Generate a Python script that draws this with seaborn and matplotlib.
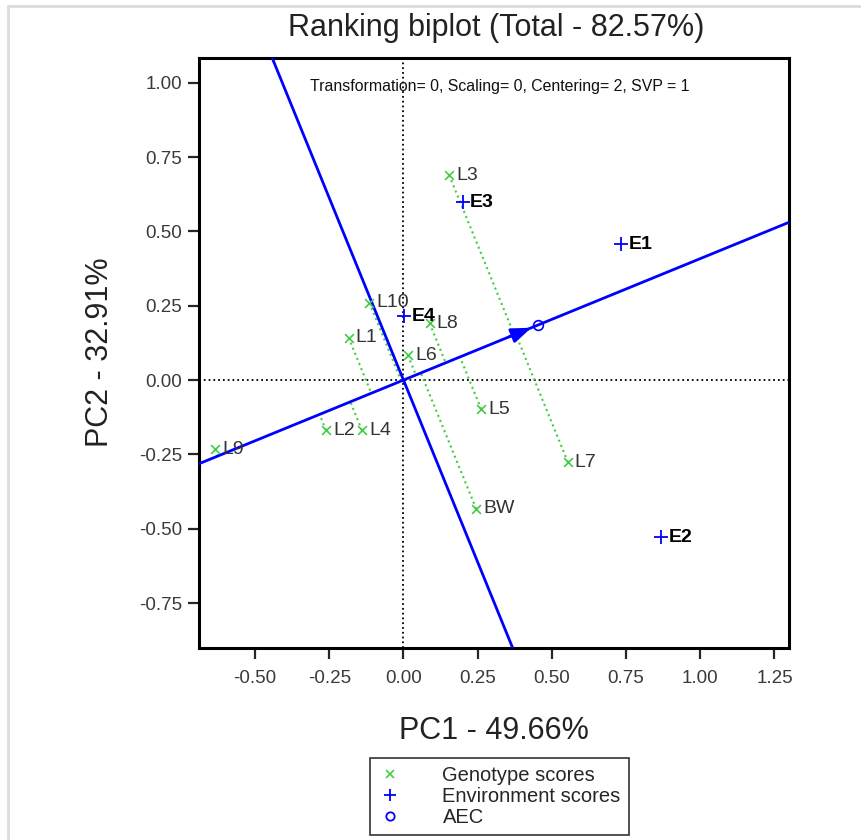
import numpy as np
import seaborn as sns
import matplotlib.pyplot as plt
from matplotlib.lines import Line2D
from matplotlib.patches import Rectangle

sns.set_style('ticks')
plt.rcParams['font.family'] = ['Liberation Sans', 'DejaVu Sans']

# genotype scores (PC1, PC2)
gen_names = ['L3', 'L10', 'L8', 'L1', 'L6', 'L5', 'L2', 'L4', 'L9', 'L7', 'BW']
gen_pc1 = [0.154, -0.115, 0.088, -0.185, 0.015, 0.262, -0.261, -0.140, -0.635, 0.554, 0.245]
gen_pc2 = [0.689, 0.260, 0.191, 0.143, 0.083, -0.098, -0.169, -0.169, -0.233, -0.276, -0.433]

# environment scores
env_names = ['E1', 'E2', 'E3', 'E4']
env_pc1 = [0.734, 0.869, 0.201, 0.003]
env_pc2 = [0.457, -0.528, 0.598, 0.215]

# average environment coordinate
aec = [0.453, 0.185]

green = '#44cc44'
blue = '#0000ff'

fig = plt.figure(figsize=(8.62, 8.40), dpi=100)
ax = fig.add_axes([199 / 862, 1 - 648 / 840, 590 / 862, 590 / 840])

# reference lines through origin
ax.axhline(0, color='black', ls=':', lw=1.3, zorder=1)
ax.axvline(0, color='black', ls=':', lw=1.3, zorder=1)

# AEC axis and its perpendicular
ax.axline((0, 0), (aec[0], aec[1]), color=blue, lw=2, zorder=3)
ax.axline((0, 0), slope=-aec[0] / aec[1], color=blue, lw=2, zorder=3)

# projections of genotypes on the AEC axis
u = np.array(aec) / np.linalg.norm(aec)
for x, y in zip(gen_pc1, gen_pc2):
    t = x * u[0] + y * u[1]
    ax.plot([x, t * u[0]], [y, t * u[1]], color=green, ls=':', lw=1.5, zorder=2)

# arrow head on the AEC axis
tip = 0.97 * np.array(aec)
ax.annotate('', xy=tip, xytext=tip - 0.1 * u,
            arrowprops=dict(arrowstyle='-|>,head_length=1.2,head_width=0.45',
                            color=blue, lw=2), zorder=4)

sns.scatterplot(x=gen_pc1, y=gen_pc2, marker='x', color=green, s=40,
                linewidth=1.2, ax=ax, zorder=5)
sns.scatterplot(x=env_pc1, y=env_pc2, marker='+', color=blue, s=90,
                linewidth=1.3, ax=ax, zorder=5)
ax.plot(aec[0], aec[1], marker='o', mfc='none', mec=blue, ms=7, mew=1.2, zorder=5)

for n, x, y in zip(gen_names, gen_pc1, gen_pc2):
    ax.annotate(n, (x, y), xytext=(5, 0), textcoords='offset points',
                va='center', ha='left', fontsize=14, color='#333333', zorder=6)
for n, x, y in zip(env_names, env_pc1, env_pc2):
    ax.annotate(n, (x, y), xytext=(5, 0), textcoords='offset points',
                va='center', ha='left', fontsize=14, color='black',
                fontweight='bold', zorder=6)

ax.set_xlim(-0.689, 1.299)
ax.set_ylim(-0.901, 1.083)
ax.set_xticks([-0.5, -0.25, 0, 0.25, 0.5, 0.75, 1.0, 1.25])
ax.set_yticks([-0.75, -0.5, -0.25, 0, 0.25, 0.5, 0.75, 1.0])
ax.xaxis.set_major_formatter(plt.FormatStrFormatter('%.2f'))
ax.yaxis.set_major_formatter(plt.FormatStrFormatter('%.2f'))
ax.tick_params(axis='both', direction='out', length=8, width=1.6,
               labelsize=13.5, labelcolor='#3a3a3a')
ax.tick_params(axis='x', pad=8)
ax.tick_params(axis='y', pad=4)
for s in ax.spines.values():
    s.set_linewidth(2.2)
    s.set_color('black')
ax.set_xlabel('')
ax.set_ylabel('')

fig.text(500 / 862, 1 - 87 / 840, 'Transformation= 0, Scaling= 0, Centering= 2, SVP = 1',
         ha='center', va='center', fontsize=11.4, color='#111111')

fig.text(496 / 862, 1 - 28 / 840, 'Ranking biplot (Total - 82.57%)',
         ha='center', va='center', fontsize=22, color='#222222')
fig.text(494 / 862, 1 - 731 / 840, 'PC1 - 49.66%', ha='center', va='center',
         fontsize=22, color='#222222')
fig.text(100 / 862, 1 - 352 / 840, 'PC2 - 32.91%', ha='center', va='center',
         rotation=90, fontsize=22, color='#222222')

handles = [Line2D([], [], ls='none', marker='x', color=green, ms=6, mew=1.2),
           Line2D([], [], ls='none', marker='+', color=blue, ms=9, mew=1.3),
           Line2D([], [], ls='none', marker='o', mfc='none', mec=blue, ms=6, mew=1.3)]
leg = fig.legend(handles, ['Genotype scores', 'Environment scores', 'AEC'],
                 loc='upper left', bbox_to_anchor=(370 / 862, 1 - 758 / 840),
                 fontsize=14.5, frameon=True, fancybox=False, labelspacing=0.1,
                 handletextpad=2.0, handlelength=1.2, borderpad=0.4,
                 borderaxespad=0)
leg.get_frame().set_edgecolor('black')
leg.get_frame().set_linewidth(1.2)

# light grey frame of the panel
fig.patches.append(Rectangle((8.5 / 862, -0.05), 1.0, 1.05 - 6.5 / 840,
                             transform=fig.transFigure, fill=False,
                             edgecolor='#dcdcdc', lw=2))

fig.savefig('out.png', dpi=100)
